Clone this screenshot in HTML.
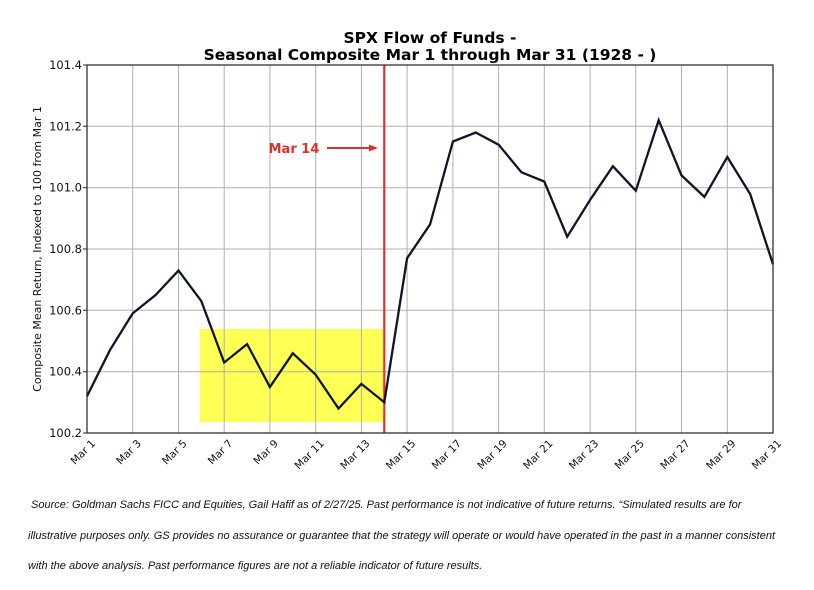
<!DOCTYPE html>
<html><head><meta charset="utf-8"><style>
body{margin:0;background:#fff;width:814px;height:590px;overflow:hidden;font-family:"Liberation Sans","DejaVu Sans",sans-serif}
.fn{position:absolute;left:28px;font-size:11px;font-style:italic;color:#111;white-space:nowrap}
</style></head><body>
<svg width="814" height="590" style="position:absolute;left:0;top:0" font-family="DejaVu Sans, Liberation Sans, sans-serif">
<text x="430" y="43" text-anchor="middle" font-size="15.5" font-weight="bold">SPX Flow of Funds -</text>
<text x="430" y="60" text-anchor="middle" font-size="15.5" font-weight="bold">Seasonal Composite Mar 1 through Mar 31 (1928 - )</text>
<rect x="200" y="329" width="183" height="93" fill="#ffff55"/>
<g stroke="#b0b0b0" stroke-width="1">
<line x1="87" y1="126.3" x2="773" y2="126.3"/><line x1="87" y1="187.7" x2="773" y2="187.7"/><line x1="87" y1="249" x2="773" y2="249"/><line x1="87" y1="310.3" x2="773" y2="310.3"/><line x1="87" y1="371.7" x2="773" y2="371.7"/>
<line x1="132.7" y1="65" x2="132.7" y2="433"/><line x1="178.5" y1="65" x2="178.5" y2="433"/><line x1="224.2" y1="65" x2="224.2" y2="433"/><line x1="269.9" y1="65" x2="269.9" y2="433"/><line x1="315.7" y1="65" x2="315.7" y2="433"/><line x1="361.4" y1="65" x2="361.4" y2="433"/><line x1="407.1" y1="65" x2="407.1" y2="433"/><line x1="452.9" y1="65" x2="452.9" y2="433"/><line x1="498.6" y1="65" x2="498.6" y2="433"/><line x1="544.3" y1="65" x2="544.3" y2="433"/><line x1="590.1" y1="65" x2="590.1" y2="433"/><line x1="635.8" y1="65" x2="635.8" y2="433"/><line x1="681.5" y1="65" x2="681.5" y2="433"/><line x1="727.3" y1="65" x2="727.3" y2="433"/>
</g>
<line x1="384.3" y1="65" x2="384.3" y2="433" stroke="#e0302a" stroke-width="2.2"/>
<text x="294" y="153" text-anchor="middle" font-size="13" font-weight="bold" fill="#e0302a">Mar 14</text>
<line x1="327" y1="148" x2="372" y2="148" stroke="#e0302a" stroke-width="2"/>
<polygon points="378,148 369,144.5 369,151.5" fill="#e0302a"/>
<polyline fill="none" stroke="#0d1526" stroke-width="2.3" stroke-linejoin="miter" points="87,396.2 109.9,350.2 132.7,313.4 155.6,295 178.5,270.5 201.3,301.1 224.2,362.5 247.1,344.1 269.9,387 292.8,353.3 315.7,374.7 338.5,408.5 361.4,383.9 384.3,402.3 407.1,258.2 430,224.5 452.9,141.5 475.7,132.5 498.6,144.7 521.5,172.3 544.3,181.5 567.2,236.7 590.1,199.9 612.9,166.2 635.8,190.7 658.7,120.2 681.5,175.4 704.4,196.9 727.3,157 750.1,193.9 773,264.3"/>
<rect x="87" y="65" width="686" height="368" fill="none" stroke="#222" stroke-width="1.2"/>
<g font-size="11.5" text-anchor="end" fill="#111">
<text x="82" y="69">101.4</text><text x="82" y="130.3">101.2</text><text x="82" y="191.7">101.0</text><text x="82" y="253">100.8</text><text x="82" y="314.3">100.6</text><text x="82" y="375.7">100.4</text><text x="82" y="437">100.2</text>
</g>
<g stroke="#222"><line x1="83" y1="65" x2="87" y2="65"/><line x1="83" y1="126.3" x2="87" y2="126.3"/><line x1="83" y1="187.7" x2="87" y2="187.7"/><line x1="83" y1="249" x2="87" y2="249"/><line x1="83" y1="310.3" x2="87" y2="310.3"/><line x1="83" y1="371.7" x2="87" y2="371.7"/><line x1="83" y1="433" x2="87" y2="433"/></g>
<text transform="translate(41,249) rotate(-90)" text-anchor="middle" font-size="11" fill="#111">Composite Mean Return, Indexed to 100 from Mar 1</text>
<g font-size="10.5" text-anchor="end" fill="#111">
<text transform="translate(96,444) rotate(-45)">Mar 1</text>
<text transform="translate(141.7,444) rotate(-45)">Mar 3</text>
<text transform="translate(187.5,444) rotate(-45)">Mar 5</text>
<text transform="translate(233.2,444) rotate(-45)">Mar 7</text>
<text transform="translate(278.9,444) rotate(-45)">Mar 9</text>
<text transform="translate(324.7,444) rotate(-45)">Mar 11</text>
<text transform="translate(370.4,444) rotate(-45)">Mar 13</text>
<text transform="translate(416.1,444) rotate(-45)">Mar 15</text>
<text transform="translate(461.9,444) rotate(-45)">Mar 17</text>
<text transform="translate(507.6,444) rotate(-45)">Mar 19</text>
<text transform="translate(553.3,444) rotate(-45)">Mar 21</text>
<text transform="translate(599.1,444) rotate(-45)">Mar 23</text>
<text transform="translate(644.8,444) rotate(-45)">Mar 25</text>
<text transform="translate(690.5,444) rotate(-45)">Mar 27</text>
<text transform="translate(736.3,444) rotate(-45)">Mar 29</text>
<text transform="translate(782,444) rotate(-45)">Mar 31</text>
</g>
</svg>
<div class="fn" style="top:499px;left:31px">Source: Goldman Sachs FICC and Equities, Gail Hafif as of 2/27/25. Past performance is not indicative of future returns. “Simulated results are for</div>
<div class="fn" style="top:530px">illustrative purposes only. GS provides no assurance or guarantee that the strategy will operate or would have operated in the past in a manner consistent</div>
<div class="fn" style="top:560px">with the above analysis. Past performance figures are not a reliable indicator of future results.</div>
</body></html>
